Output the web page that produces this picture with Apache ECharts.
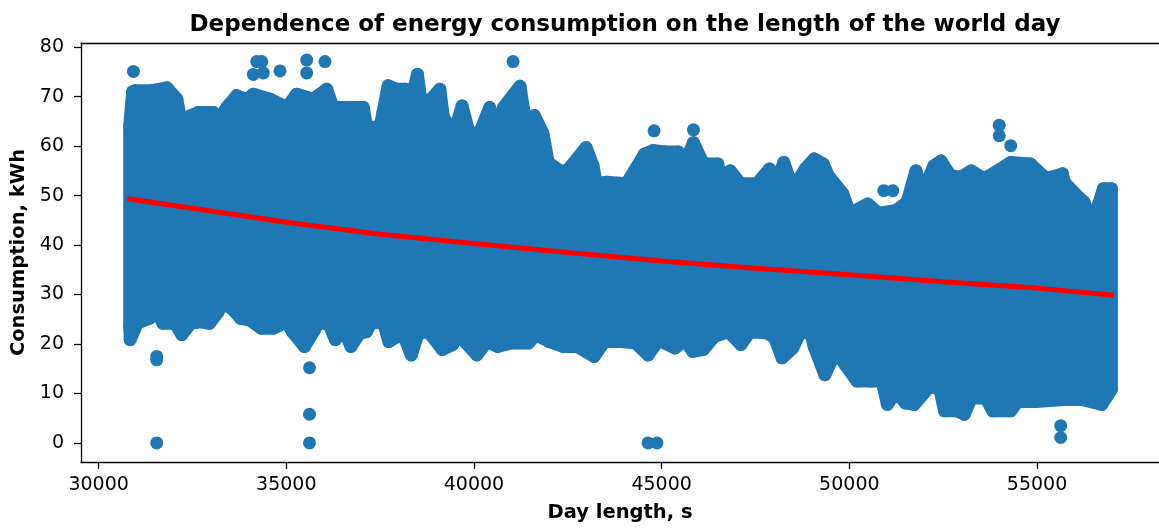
<!DOCTYPE html>
<html>
<head>
<meta charset="utf-8">
<title>Dependence of energy consumption on the length of the world day</title>
<script src="https://cdn.jsdelivr.net/npm/echarts@6/dist/echarts.min.js"></script>
<style>
  html, body { margin: 0; padding: 0; background: #fff; }
  #chart { width: 1159px; height: 528px; }
</style>
</head>
<body>
<div id="chart"></div>
<script>
// Upper edge of the dense cloud of observations (day length in s, consumption in kWh)
const topEdgeX = [30828, 30905, 30972, 31416, 31816, 32082, 32170, 32215, 32436, 32657, 33056, 33235, 33413, 33679, 33946,
  34121, 34566, 35011, 35277, 35711, 36076, 36243, 37050, 37141, 37495, 37575, 37713, 37942, 38171, 38309, 38493, 38629,
  38677, 38858, 39090, 39180, 39364, 39499, 39683, 39867, 40141, 40418, 40602, 40786, 41225, 41334, 41427, 41608, 41840,
  41976, 42343, 42527, 42985, 43168, 43259, 43536, 44065, 44305, 44542, 44779, 45109, 45447, 45636, 45847, 46113, 46494,
  46590, 46826, 47106, 47540, 47873, 48017, 48254, 48490, 48826, 49063, 49302, 49443, 49824, 50016, 50490, 50777, 51251,
  51539, 51776, 51920, 52252, 52441, 52681, 52966, 53251, 53584, 53823, 54300, 54822, 55250, 55679, 55727, 56011, 56248,
  56440, 56629, 56770, 56981];
const topEdgeY = [64.0, 71.0, 71.2, 71.2, 71.8, 69.5, 66.0, 63.1, 66.1, 66.8, 66.8, 65.8, 67.8, 70.2, 69.4,
  70.5, 69.5, 67.8, 70.5, 69.5, 71.5, 67.8, 67.8, 63.8, 63.8, 66.8, 72.2, 71.5, 71.5, 68.5, 74.5, 66.8,
  64.5, 69.5, 71.5, 66.1, 63.1, 63.5, 68.1, 62.8, 62.5, 67.8, 61.8, 67.8, 72.1, 66.8, 61.4, 66.2, 62.5,
  56.7, 54.7, 55.4, 59.7, 56.1, 52.4, 52.7, 52.4, 55.4, 58.4, 59.1, 58.8, 58.8, 56.7, 60.7, 56.4, 56.4,
  52.7, 55.0, 52.4, 52.4, 55.4, 51.7, 56.7, 51.4, 55.4, 57.4, 56.4, 54.0, 50.4, 46.4, 48.3, 46.4, 47.0,
  48.7, 55.0, 50.0, 56.0, 57.0, 54.1, 53.7, 55.0, 53.4, 54.4, 56.7, 56.4, 53.4, 54.4, 52.7, 50.4, 48.7,
  45.0, 48.0, 51.4, 51.4];

// Lower edge of the dense cloud
const bottomEdgeX = [30828, 30841, 31025, 31345, 31603, 31712, 32034, 32218, 32449, 32724, 32953, 33184, 33275, 33552,
  33781, 34010, 34332, 34654, 35021, 35160, 35482, 35756, 35849, 36124, 36307, 36539, 36723, 36952, 37135, 37274, 37596,
  37732, 38099, 38331, 38514, 38789, 39156, 39433, 39523, 39710, 39755, 40077, 40351, 40628, 40996, 41454, 41637, 42007,
  42375, 42742, 43200, 43477, 43919, 44305, 44638, 44923, 45352, 45636, 45828, 46113, 46398, 46778, 47111, 47351, 47825,
  48017, 48206, 48493, 48682, 48967, 49063, 49348, 49635, 49920, 50205, 50586, 50871, 51014, 51251, 51491, 51728, 52109,
  52394, 52537, 52870, 53062, 53251, 53632, 53823, 54300, 54489, 54966, 55727, 56203, 56725, 56981];
const bottomEdgeY = [23.5, 20.9, 24.2, 25.2, 26.2, 24.2, 24.2, 21.9, 24.2, 24.5, 24.2, 26.5, 28.2, 27.2,
  25.2, 24.9, 23.2, 23.2, 24.5, 22.5, 19.5, 22.9, 24.2, 24.2, 20.9, 22.9, 19.5, 22.2, 22.5, 24.5, 24.2,
  20.5, 22.2, 17.8, 22.2, 22.5, 18.9, 19.9, 22.2, 23.9, 20.5, 17.8, 20.5, 19.5, 20.2, 20.2, 21.9, 20.5,
  19.5, 19.5, 17.5, 20.5, 20.5, 20.2, 17.8, 20.8, 19.2, 20.8, 18.5, 18.9, 21.5, 22.5, 19.9, 22.5, 22.2,
  21.2, 17.2, 19.2, 22.2, 22.5, 19.5, 13.8, 18.5, 15.5, 12.5, 12.5, 12.5, 7.8, 10.5, 8.1, 7.8, 11.1,
  11.5, 6.5, 6.5, 5.8, 9.1, 9.1, 6.5, 6.5, 8.4, 8.4, 8.8, 8.8, 7.8, 10.8];

// Isolated observations outside the dense cloud
const outlierX = [30927, 34212, 34345, 34121, 34388, 34832, 35543, 35543, 36030, 41041, 44798, 45847, 53994, 53994,
  54300, 50918, 51158, 31547, 31547, 31547, 35618, 35618, 35618, 44638, 44875, 55631, 55631];
const outlierY = [75.1, 77.1, 77.1, 74.5, 74.8, 75.2, 77.4, 74.8, 77.1, 77.1, 63.1, 63.3, 64.2, 62.1,
  60.1, 51.0, 51.0, 17.5, 16.8, 0.0, 15.2, 5.8, 0.0, 0.0, 0.0, 3.5, 1.1];

// Fitted trend of consumption against day length
const trendX = [30830, 33000, 35000, 37500, 40000, 42500, 45000, 47500, 50000, 52500, 55000, 56980];
const trendY = [49.3, 46.9, 44.6, 42.2, 40.3, 38.5, 36.8, 35.3, 34.0, 32.6, 31.3, 29.9];

const xTicks = [30000, 35000, 40000, 45000, 50000, 55000];
const yTicks = [0, 10, 20, 30, 40, 50, 60, 70, 80];

const BLUE = '#1f77b4';
const FONT = 'DejaVu Sans';
const X_MIN = 29530, X_MAX = 58250;

const cloudPoints = [];
topEdgeX.forEach((x, i) => cloudPoints.push([x, topEdgeY[i]]));
bottomEdgeX.forEach((x, i) => cloudPoints.push([x, bottomEdgeY[i]]));
outlierX.forEach((x, i) => cloudPoints.push([x, outlierY[i]]));

const trendData = trendX.map((x, i) => [x, trendY[i]]);

const spine = { show: true, onZero: false, lineStyle: { color: '#000', width: 1.3 } };

const chart = echarts.init(document.getElementById('chart'), null, { renderer: 'canvas' });

chart.setOption({
  animation: false,
  backgroundColor: '#fff',
  title: {
    text: 'Dependence of energy consumption on the length of the world day',
    left: 620,
    textAlign: 'center',
    top: 9,
    textStyle: { fontFamily: FONT, fontWeight: 'bold', fontSize: 23, color: '#000' }
  },
  grid: { left: 81, top: 43, width: 1079, height: 422, show: false },
  xAxis: [
    {
      type: 'value',
      position: 'bottom',
      min: X_MIN, max: X_MAX,
      name: 'Day length, s',
      nameLocation: 'middle',
      nameGap: 41,
      nameTextStyle: { fontFamily: FONT, fontWeight: 'bold', fontSize: 19.5, color: '#000' },
      axisLine: spine,
      axisTick: { show: true, length: 7, lineStyle: { color: '#000', width: 1.3 }, customValues: xTicks },
      axisLabel: {
        fontFamily: FONT, fontSize: 19, color: '#000', margin: 14, customValues: xTicks,
        formatter: v => String(v)
      },
      splitLine: { show: false }
    },
    {
      // top spine
      type: 'value',
      position: 'top',
      min: X_MIN, max: X_MAX,
      axisLine: spine,
      axisTick: { show: false },
      axisLabel: { show: false },
      splitLine: { show: false }
    }
  ],
  yAxis: {
    type: 'value',
    min: -3.85, max: 80.85,
    name: 'Consumption, kWh',
    nameLocation: 'middle',
    nameGap: 49,
    nameTextStyle: { fontFamily: FONT, fontWeight: 'bold', fontSize: 19.5, color: '#000' },
    axisLine: spine,
    axisTick: { show: true, length: 7, lineStyle: { color: '#000', width: 1.3 }, customValues: yTicks },
    axisLabel: {
      fontFamily: FONT, fontSize: 19, color: '#000', margin: 17, customValues: yTicks,
      formatter: v => String(v)
    },
    splitLine: { show: false }
  },
  series: [
    {
      // filled body of the cloud, outlined with a stroke as wide as one marker
      type: 'custom',
      silent: true,
      z: 1,
      data: [[topEdgeX[0], topEdgeY[0]]],
      renderItem: function (params, api) {
        const pts = [];
        for (let i = 0; i < topEdgeX.length; i++) pts.push(api.coord([topEdgeX[i], topEdgeY[i]]));
        for (let i = bottomEdgeX.length - 1; i >= 0; i--) pts.push(api.coord([bottomEdgeX[i], bottomEdgeY[i]]));
        return {
          type: 'polygon',
          shape: { points: pts },
          style: { fill: BLUE, stroke: BLUE, lineWidth: 13, lineJoin: 'round' }
        };
      }
    },
    {
      type: 'scatter',
      silent: true,
      z: 2,
      symbol: 'circle',
      symbolSize: 13,
      itemStyle: { color: BLUE, opacity: 1 },
      data: cloudPoints
    },
    {
      type: 'line',
      silent: true,
      z: 3,
      symbol: 'none',
      smooth: false,
      lineStyle: { color: '#ff0000', width: 5, cap: 'square' },
      data: trendData
    }
  ]
});
</script>
</body>
</html>
